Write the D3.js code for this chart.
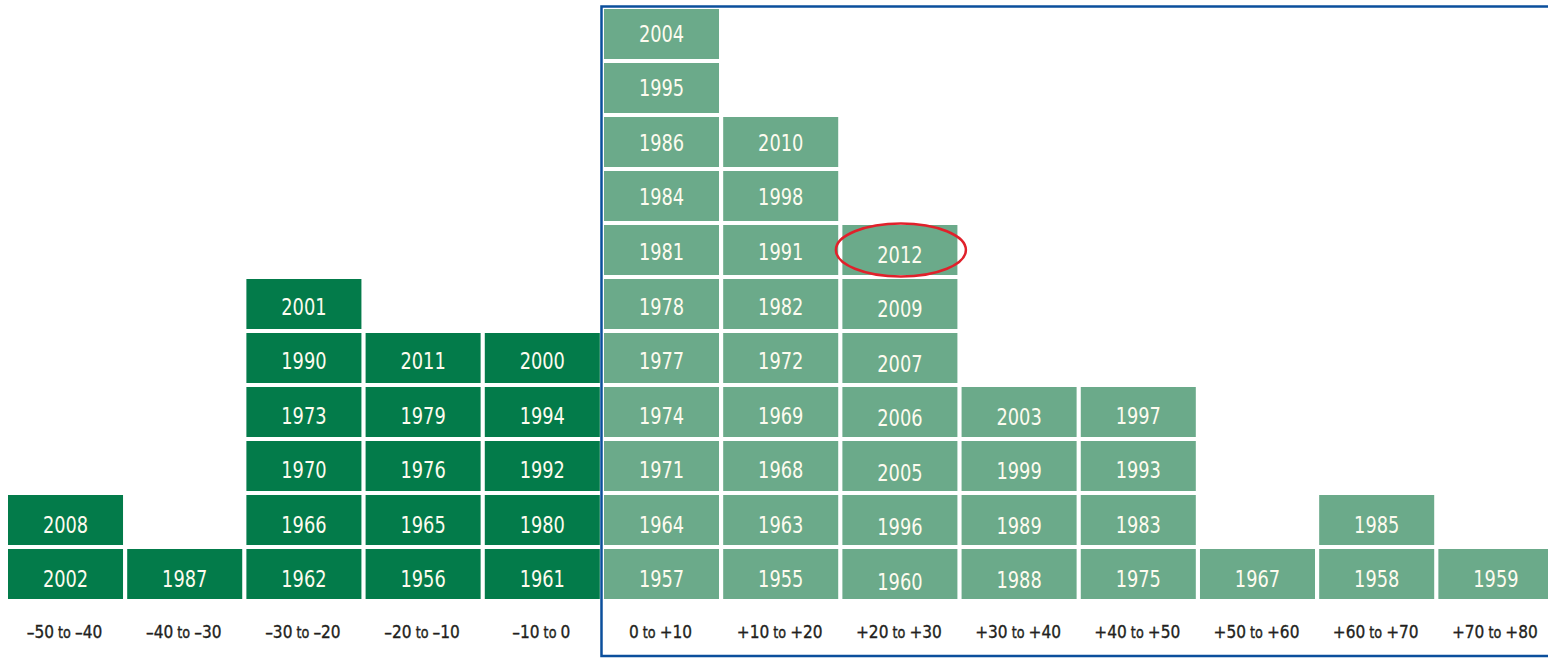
<!DOCTYPE html>
<html><head><meta charset="utf-8">
<script src="https://cdn.jsdelivr.net/npm/d3@7"></script>
<style>
html,body{margin:0;padding:0;background:#fff;}
svg{display:block;}
</style></head>
<body>
<svg id="chart" width="1548" height="658"></svg>
<script>
// Return ranges (%), as [from, to] label parts
const categories = ["–50|–40","–40|–30","–30|–20","–20|–10","–10|0","0|+10","+10|+20","+20|+30","+30|+40","+40|+50","+50|+60","+60|+70","+70|+80"];
// years in each bin, bottom to top
const col0 = [2002, 2008];
const col1 = [1987];
const col2 = [1962, 1966, 1970, 1973, 1990, 2001];
const col3 = [1956, 1965, 1976, 1979, 2011];
const col4 = [1961, 1980, 1992, 1994, 2000];
const col5 = [1957, 1964, 1971, 1974, 1977, 1978, 1981, 1984, 1986, 1995, 2004];
const col6 = [1955, 1963, 1968, 1969, 1972, 1982, 1991, 1998, 2010];
const col7 = [1960, 1996, 2005, 2006, 2007, 2009, 2012];
const col8 = [1988, 1989, 1999, 2003];
const col9 = [1975, 1983, 1993, 1997];
const col10 = [1967];
const col11 = [1958, 1985];
const col12 = [1959];
const columns = [col0,col1,col2,col3,col4,col5,col6,col7,col8,col9,col10,col11,col12];
const highlightYear = 2012;
const firstPositive = "0|+10";

const svg = d3.select("#chart");
const x = d3.scaleBand().domain(categories).range([8, 1553.4]).paddingInner(0.035).paddingOuter(0);
const y = d3.scaleBand().domain(d3.range(11)).range([599, 9]).paddingInner(4/54).paddingOuter(0);
// text centres drift slightly from cell centres in the original
const yText = d3.scaleLinear().domain([0, 10]).range([579, 33.5]);
const colShift = {7: 2.5, 8: 1};

const cells = [];
columns.forEach((yrs, ci) => yrs.forEach((yr, ri) => cells.push({cat: categories[ci], ci, ri, yr})));
const posIndex = categories.indexOf(firstPositive);

const g = svg.append("g");
g.selectAll("rect.cell").data(cells).join("rect")
  .attr("class","cell")
  .attr("x", d => x(d.cat)).attr("y", d => y(d.ri))
  .attr("width", x.bandwidth()).attr("height", y.bandwidth())
  .attr("fill", d => d.ci < posIndex ? "#037b4a" : "#6baa8a");

g.selectAll("text.yr").data(cells).join("text")
  .attr("class","yr")
  .attr("transform", d => `translate(${x(d.cat) + x.bandwidth()/2},${yText(d.ri) + 8.3 + (colShift[d.ci] || 0)}) scale(0.86,1)`)
  .attr("text-anchor","middle")
  .attr("font-family","'DejaVu Sans Condensed','DejaVu Sans'")
  .attr("font-stretch","condensed")
  .attr("font-size", 23)
  .attr("fill","#fdfbef")
  .text(d => d.yr);

// category labels
const lab = svg.append("g").selectAll("text").data(categories).join("text")
  .attr("transform", d => `translate(${x(d) + x.bandwidth()/2 - 1},638) scale(0.95,1)`)
  .attr("text-anchor","middle")
  .attr("font-family","'DejaVu Sans Condensed','DejaVu Sans'")
  .attr("font-stretch","condensed")
  .attr("fill","#231f20")
  .attr("stroke","#231f20").attr("stroke-width",0.35);
lab.each(function(d){
  const [a,b] = d.split("|");
  const t = d3.select(this);
  t.append("tspan").attr("font-size",18).text(a);
  t.append("tspan").attr("font-size",15).text(" to ");
  t.append("tspan").attr("font-size",18).text(b);
});

// blue frame around positive bins
const fx = x(firstPositive) - 2.5;
svg.append("rect")
  .attr("x", fx).attr("y", 6.5)
  .attr("width", 1600).attr("height", 649.5)
  .attr("fill","none").attr("stroke","#0b4f9c").attr("stroke-width",2.5);

// highlight ellipse
const hc = cells.find(c => c.yr === highlightYear);
svg.append("ellipse")
  .attr("cx", x(hc.cat) + x.bandwidth()/2 + 1)
  .attr("cy", y(hc.ri) + y.bandwidth()/2)
  .attr("rx", 65).attr("ry", 26.5)
  .attr("fill","none").attr("stroke","#e0212b").attr("stroke-width",2.5);
</script>
</body></html>
